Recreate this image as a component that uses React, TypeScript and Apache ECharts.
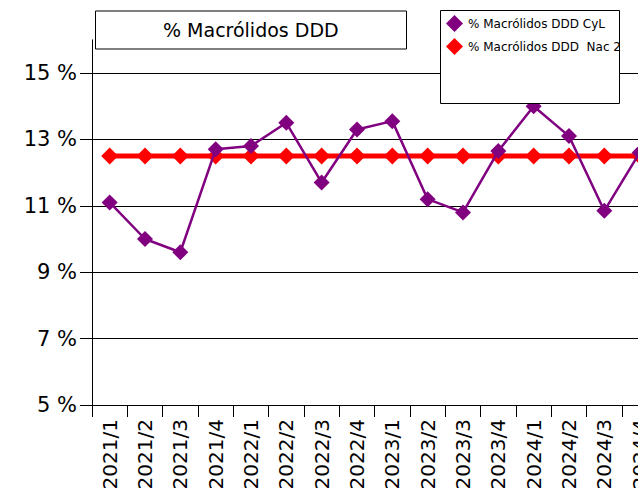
import React, { useEffect, useRef } from "react";
import * as echarts from "echarts";

const categories = [
  "2021/1", "2021/2", "2021/3", "2021/4",
  "2022/1", "2022/2", "2022/3", "2022/4",
  "2023/1", "2023/2", "2023/3", "2023/4",
  "2024/1", "2024/2", "2024/3", "2024/4",
];
const cylValues = [11.1, 10.0, 9.6, 12.7, 12.8, 13.5, 11.7, 13.3, 13.55, 11.2, 10.8, 12.65, 14.0, 13.1, 10.85, 12.6];
const nacValues = [12.5, 12.5, 12.5, 12.5, 12.5, 12.5, 12.5, 12.5, 12.5, 12.5, 12.5, 12.5, 12.5, 12.5, 12.5, 12.5];
const yTicks = [5, 7, 9, 11, 13, 15];
const seriesNames = ["% Macrólidos DDD CyL", "% Macrólidos DDD  Nac 2"];
const titleText = "% Macrólidos DDD";

const FONT = "DejaVu Sans";

export default function App() {
  const ref = useRef<HTMLDivElement>(null);
  useEffect(() => {
    if (!ref.current) return;
    const chart = echarts.init(ref.current, undefined, { renderer: "svg" });
    chart.setOption({
      animation: false,
      backgroundColor: "#ffffff",
      textStyle: { fontFamily: FONT },
      title: {
        text: titleText,
        left: 95,
        top: 10.5,
        padding: [9, 68, 9, 68],
        borderColor: "#000",
        borderWidth: 1,
        backgroundColor: "#fff",
        textStyle: { fontFamily: FONT, fontSize: 19, fontWeight: "normal", color: "#000", lineHeight: 21 },
      },
      graphic: [
        {
          type: "rect",
          z: 100,
          shape: { x: 440.5, y: 10.5, width: 179, height: 93 },
          style: { fill: "#fff", stroke: "#000", lineWidth: 1 },
        },
      ],
      legend: {
        z: 200,
        orient: "vertical",
        left: 446,
        top: 15,
        padding: 0,
        itemWidth: 17,
        itemHeight: 17,
        itemGap: 6,
        icon: "diamond",
        data: seriesNames,
        textStyle: { fontFamily: FONT, fontSize: 12, color: "#000" },
      },
      grid: { left: 92, top: 39.8, width: 565.3, bottom: 90 },
      xAxis: {
        type: "category",
        data: categories,
        boundaryGap: true,
        axisLine: { lineStyle: { color: "#000", width: 1 } },
        axisTick: { show: true, length: 12, lineStyle: { color: "#000" } },
        axisLabel: { rotate: 90, margin: 14, fontSize: 20, fontFamily: FONT, color: "#000", interval: 0 },
        splitLine: { show: false },
      },
      yAxis: {
        type: "value",
        min: 5,
        max: 16,
        axisLine: { show: true, lineStyle: { color: "#000", width: 1 } },
        axisTick: { show: true, length: 12, lineStyle: { color: "#000" }, customValues: yTicks },
        axisLabel: {
          customValues: yTicks,
          margin: 15,
          fontSize: 21,
          fontFamily: FONT,
          color: "#000",
          formatter: (v: number) => `${v} %`,
        },
        splitLine: { show: true, lineStyle: { color: "#000", width: 1 } },
      },
      series: [
        {
          name: seriesNames[1],
          type: "line",
          data: nacValues,
          symbol: "diamond",
          symbolSize: 17,
          lineStyle: { color: "#ff0000", width: 5 },
          itemStyle: { color: "#ff0000" },
          z: 2,
        },
        {
          name: seriesNames[0],
          type: "line",
          data: cylValues,
          symbol: "diamond",
          symbolSize: 16,
          lineStyle: { color: "#800080", width: 2.5 },
          itemStyle: { color: "#800080" },
          z: 3,
        },
      ],
    });
    return () => chart.dispose();
  }, []);
  return (
    <div style={{ position: "absolute", left: 0, top: 0, width: 638, height: 495, overflow: "hidden", background: "#fff" }}>
      <div ref={ref} style={{ width: 680, height: 495 }} />
    </div>
  );
}
